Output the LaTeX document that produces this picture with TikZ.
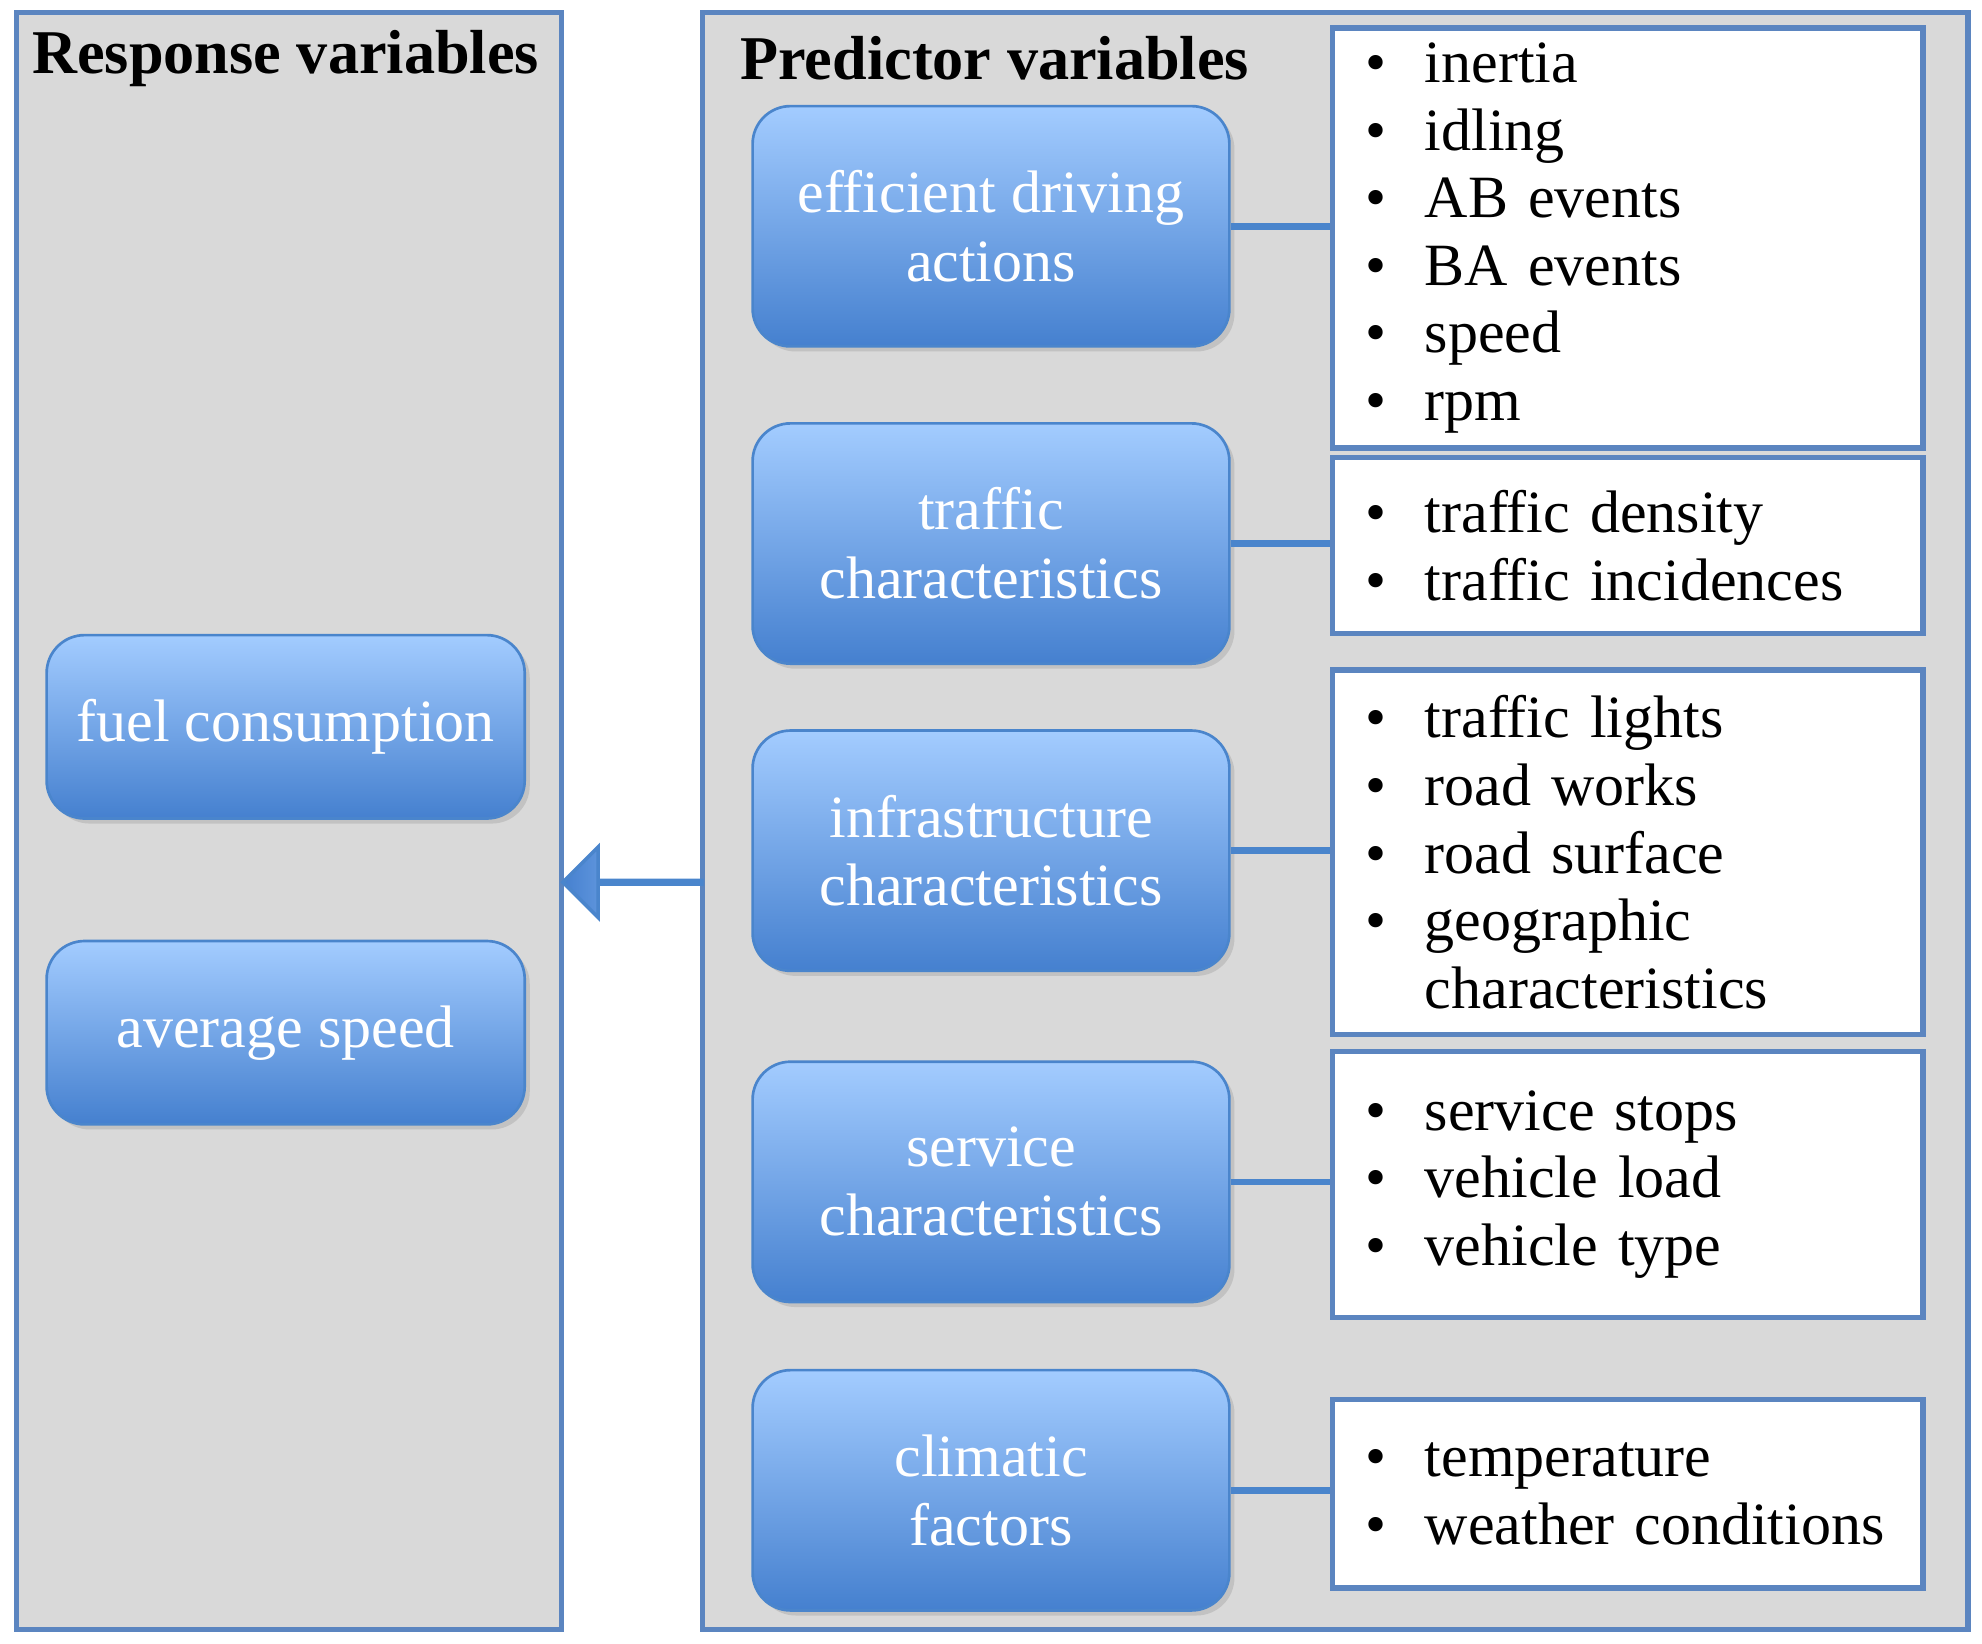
\documentclass[tikz,border=0pt]{standalone}
\usepackage{fontspec}
\setmainfont{Liberation Serif}
\usetikzlibrary{positioning,shadows,shapes.arrows}

\definecolor{frame}{HTML}{5B85C0}
\definecolor{boxtop}{HTML}{A3CCFF}
\definecolor{boxbot}{HTML}{4580CF}
\definecolor{boxline}{HTML}{4A85CC}
\tikzset{
  panel/.style={draw=frame,line width=1.2pt,fill=gray!30},
  cat/.style={rounded corners=0.3cm,top color=boxtop,bottom color=boxbot,
    draw=boxline,line width=0.6pt,text=white,align=center,
    font=\fontsize{13.5}{15.5}\selectfont,drop shadow={opacity=0.25,shadow xshift=0.04cm,shadow yshift=-0.04cm}},
  items/.style={draw=frame,line width=1.2pt,fill=white,anchor=north west,
    text width=4.15cm,inner xsep=0.26cm,font=\fontsize{13.5}{15.2}\selectfont},
  link/.style={draw=boxline,line width=1.5pt}
}
\newcommand{\bl}{\makebox[0.47cm][l]{\textbullet}}
\newcommand{\nb}{\makebox[0.47cm][l]{}}

\begin{document}
\begin{tikzpicture}[x=0.01cm,y=-0.01cm]
	\useasboundingbox (0,0) rectangle (1568,1300);

	% panels
	\draw[panel] (13,10) rectangle (444,1289);
	\draw[panel] (556,10) rectangle (1557,1289);
	\node[font=\fontsize{14}{17}\selectfont\bfseries] (rtitle) at (226,46) {Response variables};
	\node[font=\fontsize{14}{17}\selectfont\bfseries] (ptitle) at (787,46) {Predictor variables};

	% response variables
	\node[cat,minimum width=3.78cm,minimum height=1.45cm] (fuel) at (226,575) {fuel consumption};
	\node[cat,minimum width=3.78cm,minimum height=1.45cm] (avg) at (226,817) {average speed};

	% predictor categories
	\node[cat,minimum width=3.77cm,minimum height=1.9cm] (eff) at (784,179) {efficient driving\\actions};
	\node[cat,minimum width=3.77cm,minimum height=1.9cm] (traf) at (784,430) {traffic\\characteristics};
	\node[cat,minimum width=3.77cm,minimum height=1.9cm] (infra) at (784,673) {infrastructure\\characteristics};
	\node[cat,minimum width=3.77cm,minimum height=1.9cm] (serv) at (784,935) {service\\characteristics};
	\node[cat,minimum width=3.77cm,minimum height=1.9cm] (clim) at (784,1179) {climatic\\factors};

	% item lists
	\node[items,minimum height=3.12cm] (effl) at (1052,20)
	  {\bl inertia\\\bl idling\\\bl AB events\\\bl BA events\\\bl speed\\\bl rpm};
	\node[items,minimum height=1.39cm] (trafl) at (1052,360)
	  {\bl traffic density\\\bl traffic incidences};
	\node[items,minimum height=2.88cm] (infral) at (1052,528)
	  {\bl traffic lights\\\bl road works\\\bl road surface\\\bl geographic\\\nb characteristics};
	\node[items,minimum height=2.1cm] (servl) at (1052,830)
	  {\bl service stops\\\bl vehicle load\\\bl vehicle type};
	\node[items,minimum height=1.49cm] (climl) at (1052,1105)
	  {\bl temperature\\\bl \mbox{weather conditions}};

	\draw[link] (eff.east) -- (eff.east -| effl.west);
	\draw[link] (traf.east) -- (traf.east -| trafl.west);
	\draw[link] (infra.east) -- (infra.east -| infral.west);
	\draw[link] (serv.east) -- (serv.east -| servl.west);
	\draw[link] (clim.east) -- (clim.east -| climl.west);

	% big arrow
	\node[single arrow,shape border rotate=180,minimum height=1.1cm,minimum width=0.45cm,
	  single arrow head extend=0.265cm,single arrow tip angle=90,inner sep=0pt,
	  draw=boxline,line width=0.8pt,
	  left color=boxbot,right color=boxtop] (arr) at (501,698) {};
\end{tikzpicture}
\end{document}
